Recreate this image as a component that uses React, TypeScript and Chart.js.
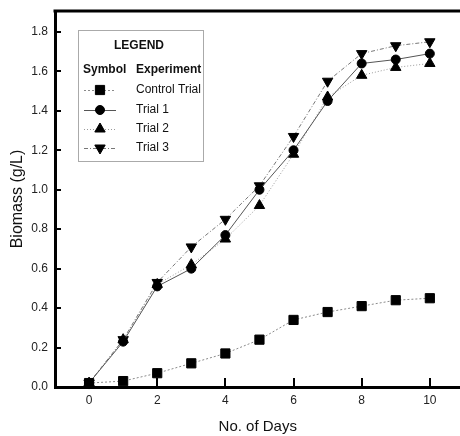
import React, { useEffect, useRef } from "react";
import { Chart, registerables } from "chart.js";

Chart.register(...registerables);

const days = [0, 1, 2, 3, 4, 5, 6, 7, 8, 9, 10];
const controlTrial = [0.02, 0.03, 0.07, 0.12, 0.17, 0.24, 0.34, 0.38, 0.41, 0.44, 0.45];
const trial1 = [0.02, 0.23, 0.51, 0.6, 0.77, 1.0, 1.2, 1.45, 1.64, 1.66, 1.69];
const trial2 = [0.02, 0.24, 0.52, 0.62, 0.75, 0.92, 1.18, 1.47, 1.58, 1.62, 1.64];
const trial3 = [0.02, 0.24, 0.53, 0.71, 0.85, 1.02, 1.27, 1.55, 1.69, 1.73, 1.75];
const xTicks = [0, 2, 4, 6, 8, 10];
const yTicks = [0, 0.2, 0.4, 0.6, 0.8, 1.0, 1.2, 1.4, 1.6, 1.8];
const seriesNames = ["Control Trial", "Trial 1", "Trial 2", "Trial 3"];

const FONT = "'Liberation Sans', Arial, sans-serif";

const insideTicks = {
  id: "insideTicks",
  afterDraw(chart: any) {
    const { ctx, chartArea, scales } = chart;
    ctx.save();
    ctx.strokeStyle = "#000";
    ctx.lineWidth = 2;
    scales.x.ticks.forEach((t: any) => {
      const px = Math.round(scales.x.getPixelForValue(t.value));
      ctx.beginPath();
      ctx.moveTo(px, chartArea.bottom);
      ctx.lineTo(px, chartArea.bottom - 9);
      ctx.stroke();
    });
    scales.y.ticks.forEach((t: any) => {
      const py = Math.round(scales.y.getPixelForValue(t.value));
      ctx.beginPath();
      ctx.moveTo(chartArea.left, py);
      ctx.lineTo(chartArea.left + 6, py);
      ctx.stroke();
    });
    ctx.lineWidth = 3;
    ctx.beginPath();
    ctx.moveTo(chartArea.left - 1.5, chartArea.top);
    ctx.lineTo(chartArea.right, chartArea.top);
    ctx.stroke();
    ctx.restore();
  },
};

function drawPointLocal(ctx: CanvasRenderingContext2D, o: any, x: number, y: number) {
  const r = o.radius;
  ctx.beginPath();
  if (o.pointStyle === "circle") {
    ctx.arc(x, y, r, 0, Math.PI * 2);
  } else if (o.pointStyle === "rect") {
    const s = Math.SQRT1_2 * r;
    ctx.rect(x - s, y - s, 2 * s, 2 * s);
  } else if (o.pointStyle === "triangle") {
    let a = (o.rotation * Math.PI) / 180;
    ctx.moveTo(x + Math.sin(a) * r, y - Math.cos(a) * r);
    a += (2 * Math.PI) / 3;
    ctx.lineTo(x + Math.sin(a) * r, y - Math.cos(a) * r);
    a += (2 * Math.PI) / 3;
    ctx.lineTo(x + Math.sin(a) * r, y - Math.cos(a) * r);
    ctx.closePath();
  }
  ctx.fill();
  ctx.stroke();
}

const boxLegend = {
  id: "boxLegend",
  afterDraw(chart: any) {
    const { ctx } = chart;
    const x0 = 78, y0 = 30, x1 = 203, y1 = 161;
    ctx.save();
    ctx.fillStyle = "#fff";
    ctx.fillRect(x0, y0, x1 - x0, y1 - y0);
    ctx.strokeStyle = "#aaa";
    ctx.lineWidth = 1;
    ctx.strokeRect(x0 + 0.5, y0 + 0.5, x1 - x0, y1 - y0);
    ctx.fillStyle = "#111";
    ctx.textBaseline = "middle";
    ctx.font = `bold 12px ${FONT}`;
    ctx.textAlign = "center";
    ctx.fillText("LEGEND", 139, 46);
    ctx.textAlign = "left";
    ctx.fillText("Symbol", 83, 70);
    ctx.fillText("Experiment", 136, 70);
    const rows = [90, 110, 129, 148];
    chart.data.datasets.forEach((ds: any, i: number) => {
      const y = rows[i];
      ctx.save();
      ctx.strokeStyle = ds.borderColor;
      ctx.lineWidth = ds.borderWidth;
      ctx.setLineDash(ds.borderDash || []);
      ctx.beginPath();
      ctx.moveTo(84, y + 0.5);
      ctx.lineTo(116, y + 0.5);
      ctx.stroke();
      ctx.restore();
      ctx.save();
      ctx.fillStyle = "#000";
      ctx.strokeStyle = "#000";
      ctx.lineWidth = 1;
      drawPointLocal(ctx, { pointStyle: ds.pointStyle, rotation: ds.pointRotation || 0, radius: ds.pointRadius }, 100, y);
      ctx.restore();
      ctx.fillStyle = "#111";
      ctx.font = `12px ${FONT}`;
      ctx.fillText(seriesNames[i], 136, y);
    });
    ctx.restore();
  },
};

export default function App() {
  const ref = useRef<HTMLCanvasElement>(null);
  useEffect(() => {
    if (!ref.current) return;
    const mk = (data: number[]) => days.map((d, i) => ({ x: d, y: data[i] }));
    const common = { backgroundColor: "#000", pointBackgroundColor: "#000", pointBorderColor: "#000", borderWidth: 1 };
    const chart = new Chart(ref.current, {
      type: "line",
      data: {
        datasets: [
          { ...common, label: seriesNames[0], data: mk(controlTrial), borderColor: "#8a8a8a", borderDash: [2, 2], pointStyle: "rect", pointRadius: 6.5 },
          { ...common, label: seriesNames[1], data: mk(trial1), borderColor: "#555", pointStyle: "circle", pointRadius: 4.5 },
          { ...common, label: seriesNames[2], data: mk(trial2), borderColor: "#999", borderDash: [1, 2], pointStyle: "triangle", pointRadius: 6 },
          { ...common, label: seriesNames[3], data: mk(trial3), borderColor: "#777", borderDash: [4, 2, 1, 2], pointStyle: "triangle", pointRotation: 180, pointRadius: 6 },
        ] as any,
      },
      options: {
        animation: false,
        responsive: false,
        clip: false as any,
        layout: { padding: { left: 0, top: 11, right: 0, bottom: 0 } },
        plugins: { legend: { display: false }, tooltip: { enabled: false } },
        scales: {
          x: {
            type: "linear",
            min: -1,
            max: 10.9,
            afterBuildTicks: (s: any) => {
              s.ticks = xTicks.map((v) => ({ value: v }));
            },
            afterFit: (s: any) => {
              s.height = 49;
              s.paddingLeft = 0;
              s.paddingRight = 0;
            },
            grid: { display: false, drawTicks: false },
            border: { display: true, color: "#000", width: 3 },
            ticks: {
              padding: 6,
              color: "#222",
              font: { family: FONT, size: 12 },
              callback: (v: any) => String(v),
            },
            title: {
              display: true,
              text: "No. of Days",
              color: "#111",
              font: { family: FONT, size: 15 },
              padding: { top: 0, bottom: 0 },
            },
          },
          y: {
            type: "linear",
            min: 0,
            max: 1.906,
            afterBuildTicks: (s: any) => {
              s.ticks = yTicks.map((v) => ({ value: v }));
            },
            afterFit: (s: any) => {
              s.width = 55;
              s.paddingTop = 0;
              s.paddingBottom = 0;
            },
            grid: { display: false, drawTicks: false },
            border: { display: true, color: "#000", width: 3 },
            ticks: {
              padding: 7,
              color: "#222",
              font: { family: FONT, size: 12 },
              callback: (v: any) => Number(v).toFixed(1),
            },
            title: {
              display: true,
              text: "Biomass (g/L)",
              color: "#111",
              font: { family: FONT, size: 16 },
              padding: { top: 8, bottom: 0 },
            },
          },
        },
      },
      plugins: [insideTicks, boxLegend],
    });
    return () => chart.destroy();
  }, []);
  return (
    <div style={{ position: "absolute", left: 0, top: 0, width: 460, height: 436, background: "#fff", overflow: "hidden" }}>
      <canvas ref={ref} width={468} height={436} style={{ display: "block" }} />
    </div>
  );
}
